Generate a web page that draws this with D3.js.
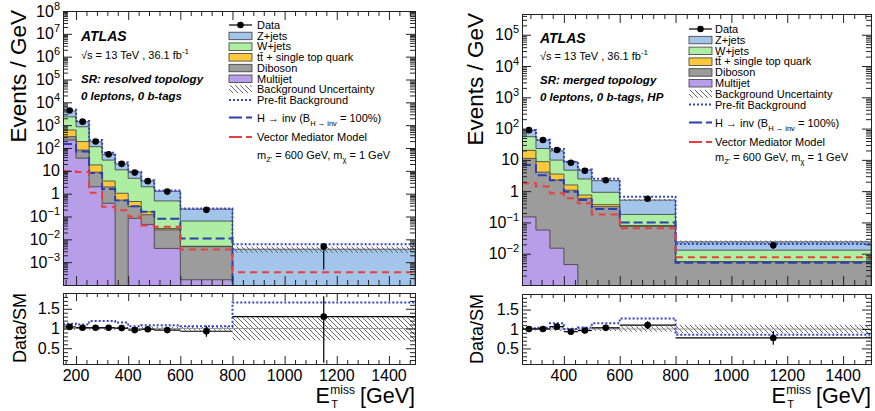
<!DOCTYPE html>
<html><head><meta charset="utf-8">
<script src="https://cdn.jsdelivr.net/npm/d3@7"></script>
<style>
body{margin:0;background:#fff}
svg{font-family:"Liberation Sans",Arial,Helvetica,sans-serif}
</style></head><body>
<script>
// ---- resolved topology (left) ----
var edgesL = [150,200,250,300,350,400,450,500,600,800,1500];
var multijetL = [224, 36, 2.0, 0.38, 0, 0.083, 0.045, 0.004, 0.00017, 0];
var dibosonL  = [90, 45, 6.7, 1.6, 0.52, 0.19, 0.075, 0.022, 0.0046, 0];
var ttbarL    = [300, 110, 9.5, 1.6, 0.52, 0.18, 0.04, 0.004, 0.0002, 0];
var wjetsL    = [1700, 660, 96, 26, 10, 4.25, 1.84, 0.45, 0.058, 0];
var zjetsL    = [1900, 550, 75, 22, 9, 4.0, 1.6, 0.8, 0.147, 0.0037];
var hinvL     = [150, 70, 8, 1.6, 0.5, 0.28, 0.16, 0.08, 0.011, 0.00005];
var vmedL     = [9.5, 9, 1.1, 0.27, 0.19, 0.1, 0.04, 0.036, 0.0036, 0.00036];
var dataRatioL   = [1.04, 1.02, 1.02, 1.02, 1.01, 0.96, 0.98, 0.96, 0.93, 1.30];
var dataErrUpL   = [0.01, 0.01, 0.02, 0.03, 0.04, 0.05, 0.06, 0.08, 0.15, 0.40];
var dataErrDnL   = [0.01, 0.01, 0.02, 0.03, 0.04, 0.05, 0.06, 0.08, 0.15, 0.90];
var prefitRatioL = [1.12, 1.10, 1.19, 1.19, 1.15, 1.06, 1.08, 1.08, 1.06, 1.66];
var bkgUncL      = [0.04, 0.03, 0.04, 0.04, 0.04, 0.04, 0.05, 0.05, 0.06, 0.30];

// ---- merged topology (right) ----
var edgesR = [250,300,350,400,450,500,600,800,1500];
var multijetR = [0.15, 0.057, 0.015, 0.0045, 0, 0, 0, 0];
var dibosonR  = [11, 4.0, 2.25, 1.07, 0.59, 0.32, 0.075, 0.0055];
var ttbarR    = [9, 4.7, 1.25, 0.5, 0.16, 0.05, 0.005, 0.0001];
var wjetsR    = [35, 14.3, 6.3, 3.1, 1.7, 0.55, 0.1, 0.0074];
var zjetsR    = [34, 20, 9.7, 4.0, 2.25, 1.24, 0.34, 0.011];
var hinvR     = [6.8, 3.2, 2.25, 0.96, 0.52, 0.27, 0.1, 0.0051];
var vmedR     = [1.8, 1.4, 0.85, 0.59, 0.41, 0.18, 0.065, 0.0077];
var dataRatioR   = [1.0, 1.0, 1.06, 0.93, 0.96, 1.03, 1.10, 0.77];
var dataErrUpR   = [0.02, 0.03, 0.04, 0.05, 0.07, 0.06, 0.09, 0.23];
var dataErrDnR   = [0.02, 0.03, 0.04, 0.05, 0.07, 0.06, 0.09, 0.23];
var prefitRatioR = [1.02, 1.03, 1.15, 1.0, 1.04, 1.15, 1.27, 0.85];
var bkgUncR      = [0.04, 0.04, 0.05, 0.04, 0.05, 0.05, 0.07, 0.11];

// tick labels
var xTicksL = [200,400,600,800,1000,1200,1400];
var xTicksR = [400,600,800,1000,1200,1400];
var yExpL = [8,7,6,5,4,3,2,1,0,-1,-2,-3];
var yExpR = [5,4,3,2,1,0,-1,-2];
var ratioTicks = [0.5, 1, 1.5];

var legendLabels = ["Data","Z+jets","W+jets","tt\u0304 + single top quark","Diboson","Multijet","Background Uncertainty","Pre-fit Background"];
var regionL = ["SR: resolved topology", "0 leptons, 0 b-tags"];
var regionR = ["SR: merged topology", "0 leptons, 0 b-tags, HP"];

var colors = {mj:"#b89ee8", dib:"#9c9c9c", tt:"#fcc93c", w:"#aeeea3", z:"#a3c5ea",
              prefit:"#3344cc", hinv:"#2b3fb0", vmed:"#e8403a"};

var svg = d3.select("body").append("svg").attr("width",875).attr("height",411);
var defs = svg.append("defs");
defs.append("pattern").attr("id","hatch").attr("patternUnits","userSpaceOnUse")
  .attr("width",5).attr("height",5)
  .append("path").attr("d","M-1,-1L6,6M-1,4L1,6M4,-1L6,1")
  .attr("stroke","#555").attr("stroke-width",0.9);

var panels = [
  {id:"L", edges:edgesL, mj:multijetL, dib:dibosonL, tt:ttbarL, w:wjetsL, z:zjetsL,
   hinv:hinvL, vmed:vmedL, ratio:dataRatioL, errUp:dataErrUpL, errDn:dataErrDnL,
   prefit:prefitRatioL, unc:bkgUncL, xTicks:xTicksL, yExp:yExpL, region:regionL,
   xDomain:[150,1500], yDomain:[1e-4,1e8], x0:63, x1:415, y0:11, y1:285, r0:293, r1:364,
   ttlX:26, txtX:81, txtY:[41,59,83,100], legSym:229, legTxt:257,
   legRows:[25,35.7,46.4,57.1,67.8,78.5,89.2,100,117.5,137,155]},
  {id:"R", edges:edgesR, mj:multijetR, dib:dibosonR, tt:ttbarR, w:wjetsR, z:zjetsR,
   hinv:hinvR, vmed:vmedR, ratio:dataRatioR, errUp:dataErrUpR, errDn:dataErrDnR,
   prefit:prefitRatioR, unc:bkgUncR, xTicks:xTicksR, yExp:yExpR, region:regionR,
   xDomain:[250,1500], yDomain:[1e-3,4.6e5], x0:522, x1:871, y0:14, y1:285, r0:294, r1:364,
   ttlX:483, txtX:540, txtY:[43,60,84,101], legSym:689, legTxt:715,
   legRows:[29,39.8,50.6,61.4,72.2,83,93.8,104.6,122.5,142,157]}
];

function steps(edges, vals) {
  var pts = vals.map(function(v,i){ return [edges[i], v, i]; });
  pts.push([edges[edges.length-1], vals[vals.length-1], vals.length-1]);
  return pts;
}

function drawPanel(p) {
  var x = d3.scaleLinear().domain(p.xDomain).range([p.x0, p.x1]);
  var y = d3.scaleLog().domain(p.yDomain).range([p.y1, p.y0]);
  var yr = d3.scaleLinear().domain([0.1, 1.9]).range([p.r1, p.r0]);
  var ymin = p.yDomain[0];
  var cl = function(v){ return y(Math.max(v, ymin * 0.5)); };
  var n = p.edges.length - 1;

  defs.append("clipPath").attr("id","cm"+p.id).append("rect")
    .attr("x",p.x0).attr("y",p.y0).attr("width",p.x1-p.x0).attr("height",p.y1-p.y0);
  defs.append("clipPath").attr("id","cr"+p.id).append("rect")
    .attr("x",p.x0).attr("y",p.r0).attr("width",p.x1-p.x0).attr("height",p.r1-p.r0);

  // cumulative stack
  var comps = [p.mj, p.dib, p.tt, p.w, p.z];
  var names = ["mj","dib","tt","w","z"];
  var cum = [], run = p.mj.map(function(){ return 0; });
  comps.forEach(function(c){
    run = run.map(function(v,i){ return v + c[i]; });
    cum.push(run);
  });
  var total = cum[4];

  var gm = svg.append("g").attr("clip-path","url(#cm"+p.id+")");
  var area = d3.area().curve(d3.curveStepAfter)
    .x(function(d){ return x(d[0]); }).y0(p.y1).y1(function(d){ return cl(d[1]); });
  var line = d3.line().curve(d3.curveStepAfter)
    .x(function(d){ return x(d[0]); }).y(function(d){ return cl(d[1]); });

  for (var k = 4; k >= 0; k--) {
    var pts = steps(p.edges, cum[k]);
    gm.append("path").attr("d", area(pts)).attr("fill", colors[names[k]]);
    var outline = [[p.edges[0], 0]].concat(pts).concat([[p.edges[n], 0]]);
    gm.append("path").attr("d", line(outline)).attr("fill","none")
      .attr("stroke","#3a3a3a").attr("stroke-width",0.8);
  }

  // background uncertainty band
  var band = d3.area().curve(d3.curveStepAfter)
    .x(function(d){ return x(d[0]); })
    .y0(function(d){ return cl(d[1]*(1-p.unc[d[2]])); })
    .y1(function(d){ return cl(d[1]*(1+p.unc[d[2]])); });
  gm.append("path").attr("d", band(steps(p.edges, total))).attr("fill","url(#hatch)");

  var prefitMain = total.map(function(v,i){ return v * p.prefit[i]; });
  gm.append("path").attr("d", line(steps(p.edges, prefitMain))).attr("fill","none")
    .attr("stroke",colors.prefit).attr("stroke-width",2).attr("stroke-dasharray","2,2");
  gm.append("path").attr("d", line(steps(p.edges, p.hinv))).attr("fill","none")
    .attr("stroke",colors.hinv).attr("stroke-width",2).attr("stroke-dasharray","9,4");
  gm.append("path").attr("d", line(steps(p.edges, p.vmed))).attr("fill","none")
    .attr("stroke",colors.vmed).attr("stroke-width",2).attr("stroke-dasharray","7,5");

  // data in main panel
  var data = total.map(function(v,i){
    var d = v * p.ratio[i];
    return {c:(p.edges[i]+p.edges[i+1])/2, v:d, up:d*(1+p.errUp[i]), dn:d*(1-p.errDn[i])};
  });
  gm.selectAll(".eb").data(data).enter().append("line")
    .attr("x1",function(d){ return x(d.c); }).attr("x2",function(d){ return x(d.c); })
    .attr("y1",function(d){ return cl(d.up); }).attr("y2",function(d){ return cl(d.dn); })
    .attr("stroke","#000").attr("stroke-width",1.2);
  gm.selectAll(".pt").data(data).enter().append("circle")
    .attr("cx",function(d){ return x(d.c); }).attr("cy",function(d){ return cl(d.v); })
    .attr("r",3.3).attr("fill","#000");

  // ratio panel
  var gr = svg.append("g").attr("clip-path","url(#cr"+p.id+")");
  var rband = d3.area().curve(d3.curveStepAfter)
    .x(function(d){ return x(d[0]); })
    .y0(function(d){ return yr(1 - d[1]); }).y1(function(d){ return yr(1 + d[1]); });
  gr.append("path").attr("d", rband(steps(p.edges, p.unc))).attr("fill","url(#hatch)");
  gr.append("line").attr("x1",p.x0).attr("x2",p.x1).attr("y1",yr(1)).attr("y2",yr(1))
    .attr("stroke","#999").attr("stroke-width",1);
  var rline = d3.line().curve(d3.curveStepAfter)
    .x(function(d){ return x(d[0]); }).y(function(d){ return yr(d[1]); });
  gr.append("path").attr("d", rline(steps(p.edges, p.prefit))).attr("fill","none")
    .attr("stroke",colors.prefit).attr("stroke-width",2).attr("stroke-dasharray","2,2");
  var rdata = p.ratio.map(function(r,i){
    return {a:p.edges[i], b:p.edges[i+1], c:(p.edges[i]+p.edges[i+1])/2,
            v:r, up:r*(1+p.errUp[i]), dn:r*(1-p.errDn[i])};
  });
  gr.selectAll(".hx").data(rdata).enter().append("line")
    .attr("x1",function(d){ return x(d.a); }).attr("x2",function(d){ return x(d.b); })
    .attr("y1",function(d){ return yr(d.v); }).attr("y2",function(d){ return yr(d.v); })
    .attr("stroke","#000").attr("stroke-width",1.2);
  gr.selectAll(".vx").data(rdata).enter().append("line")
    .attr("x1",function(d){ return x(d.c); }).attr("x2",function(d){ return x(d.c); })
    .attr("y1",function(d){ return yr(d.up); }).attr("y2",function(d){ return yr(d.dn); })
    .attr("stroke","#000").attr("stroke-width",1.2);
  gr.selectAll(".rp").data(rdata).enter().append("circle")
    .attr("cx",function(d){ return x(d.c); }).attr("cy",function(d){ return yr(d.v); })
    .attr("r",3.3).attr("fill","#000");

  // frames
  [[p.y0,p.y1],[p.r0,p.r1]].forEach(function(f){
    svg.append("rect").attr("x",p.x0+0.5).attr("y",f[0]+0.5)
      .attr("width",p.x1-p.x0).attr("height",f[1]-f[0])
      .attr("fill","none").attr("stroke","#222").attr("stroke-width",1);
  });

  // ticks
  function addAxis(axis, tx, ty) {
    var g = svg.append("g").attr("transform","translate("+tx+","+ty+")").call(axis);
    g.select(".domain").remove();
    g.selectAll("line").attr("stroke","#222");
    return g;
  }
  var xMajor = d3.range(200, 1501, 200).filter(function(v){ return v >= p.xDomain[0]; });
  var xMinor = d3.range(160, 1501, 40).filter(function(v){ return v >= p.xDomain[0] && v % 200 !== 0; });
  [[p.y1,p.y0],[p.r1,p.r0]].forEach(function(f, j){
    var big = j === 0 ? 9 : 8, small = j === 0 ? 5 : 4;
    addAxis(d3.axisBottom(x).tickValues(xMajor).tickSize(-big).tickFormat(""), 0, f[0]);
    addAxis(d3.axisBottom(x).tickValues(xMinor).tickSize(-small).tickFormat(""), 0, f[0]);
    addAxis(d3.axisTop(x).tickValues(xMajor).tickSize(-big).tickFormat(""), 0, f[1]);
    addAxis(d3.axisTop(x).tickValues(xMinor).tickSize(-small).tickFormat(""), 0, f[1]);
  });
  var lo = Math.floor(Math.log10(p.yDomain[0])), hi = Math.ceil(Math.log10(p.yDomain[1]));
  var yMajor = [], yMinor = [];
  for (var e = lo; e <= hi; e++) {
    var b = Math.pow(10, e);
    if (b >= p.yDomain[0] && b <= p.yDomain[1]) yMajor.push(b);
    for (var m = 2; m <= 9; m++) {
      var v = m * b;
      if (v >= p.yDomain[0] && v <= p.yDomain[1]) yMinor.push(v);
    }
  }
  addAxis(d3.axisLeft(y).tickValues(yMajor).tickSize(-9).tickFormat(""), p.x0, 0);
  addAxis(d3.axisLeft(y).tickValues(yMinor).tickSize(-5).tickFormat(""), p.x0, 0);
  addAxis(d3.axisRight(y).tickValues(yMajor).tickSize(-9).tickFormat(""), p.x1, 0);
  addAxis(d3.axisRight(y).tickValues(yMinor).tickSize(-5).tickFormat(""), p.x1, 0);
  var rMinor = d3.range(2, 19).map(function(v){ return v/10; }).filter(function(v){ return Math.round(v*10) % 5 !== 0; });
  addAxis(d3.axisLeft(yr).tickValues(ratioTicks).tickSize(-9).tickFormat(""), p.x0, 0);
  addAxis(d3.axisLeft(yr).tickValues(rMinor).tickSize(-5).tickFormat(""), p.x0, 0);
  addAxis(d3.axisRight(yr).tickValues(ratioTicks).tickSize(-9).tickFormat(""), p.x1, 0);
  addAxis(d3.axisRight(yr).tickValues(rMinor).tickSize(-5).tickFormat(""), p.x1, 0);

  // tick labels
  var lab = svg.append("g").attr("font-size",16).attr("fill","#000");
  p.yExp.forEach(function(ex){
    var t = lab.append("text").attr("x",p.x0-3).attr("y",y(Math.pow(10,ex))+5.5)
      .attr("text-anchor","end");
    if (ex === 0) t.text("1");
    else if (ex === 1) t.text("10");
    else {
      t.text("10");
      t.append("tspan").attr("dy",-7).attr("font-size",11).text(String(ex).replace("-","\u2212"));
    }
  });
  p.xTicks.forEach(function(v){
    lab.append("text").attr("x",x(v)).attr("y",381).attr("text-anchor","middle").text(v);
  });
  ratioTicks.forEach(function(v){
    lab.append("text").attr("x",p.x0-3).attr("y",yr(v)+5.5).attr("text-anchor","end").text(v);
  });

  // axis titles
  svg.append("text").attr("transform","translate("+p.ttlX+","+(p.y0-1)+") rotate(-90)")
    .attr("text-anchor","end").attr("font-size",22.5).text("Events / GeV");
  svg.append("text").attr("transform","translate("+p.ttlX+","+p.r0+") rotate(-90)")
    .attr("text-anchor","end").attr("font-size",18).text("Data/SM");
  var gv = svg.append("text").attr("x",p.x1).attr("y",403).attr("text-anchor","end")
    .attr("font-size",21.5).text("[GeV]");
  var gvW = gv.node().getComputedTextLength();
  var ms = svg.append("text").attr("x",p.x1-gvW-5).attr("y",393.5).attr("text-anchor","end")
    .attr("font-size",12).text("miss");
  var msStart = p.x1 - gvW - 5 - ms.node().getComputedTextLength();
  svg.append("text").attr("x",msStart+1).attr("y",407.5).attr("font-size",11).text("T");
  svg.append("text").attr("x",msStart-0.5).attr("y",403).attr("text-anchor","end")
    .attr("font-size",21.5).text("E");

  // ATLAS labels
  var tg = svg.append("g");
  tg.append("text").attr("x",p.txtX).attr("y",p.txtY[0]).attr("font-size",14)
    .attr("font-weight","bold").attr("font-style","italic").text("ATLAS");
  var rs = tg.append("text").attr("x",p.txtX).attr("y",p.txtY[1]).attr("font-size",11)
    .text("\u221As = 13 TeV , 36.1 fb");
  rs.append("tspan").attr("dy",-5).attr("font-size",8).text("-1");
  p.region.forEach(function(s, i){
    tg.append("text").attr("x",p.txtX).attr("y",p.txtY[2+i]).attr("font-size",11.5)
      .attr("font-weight","bold").attr("font-style","italic").text(s);
  });

  // legend
  var lg = svg.append("g").attr("font-size",11);
  var sx = p.legSym, sw = 23, tx = p.legTxt, R = p.legRows;
  legendLabels.forEach(function(s, i){
    lg.append("text").attr("x",tx).attr("y",R[i]+4).text(s);
  });
  lg.append("line").attr("x1",sx).attr("x2",sx+sw).attr("y1",R[0]).attr("y2",R[0])
    .attr("stroke","#000").attr("stroke-width",1.2);
  lg.append("circle").attr("cx",sx+sw/2).attr("cy",R[0]).attr("r",3.3).attr("fill","#000");
  ["z","w","tt","dib","mj"].forEach(function(c, i){
    lg.append("rect").attr("x",sx).attr("y",R[i+1]-3.5).attr("width",sw).attr("height",7.5)
      .attr("fill",colors[c]).attr("stroke","#3a3a3a").attr("stroke-width",0.8);
  });
  lg.append("rect").attr("x",sx).attr("y",R[6]-4).attr("width",sw).attr("height",8)
    .attr("fill","url(#hatch)");
  lg.append("line").attr("x1",sx).attr("x2",sx+sw).attr("y1",R[7]).attr("y2",R[7])
    .attr("stroke",colors.prefit).attr("stroke-width",2).attr("stroke-dasharray","2,2");
  lg.append("line").attr("x1",sx).attr("x2",sx+sw).attr("y1",R[8]).attr("y2",R[8])
    .attr("stroke",colors.hinv).attr("stroke-width",2).attr("stroke-dasharray","13,4");
  lg.append("line").attr("x1",sx).attr("x2",sx+sw).attr("y1",R[9]).attr("y2",R[9])
    .attr("stroke",colors.vmed).attr("stroke-width",2).attr("stroke-dasharray","13,4");
  var ht = lg.append("text").attr("x",tx).attr("y",R[8]+4).text("H \u2192 inv (B");
  ht.append("tspan").attr("dy",4).attr("font-size",7.5).text("H \u2192 inv");
  ht.append("tspan").attr("dy",-4).text(" = 100%)");
  lg.append("text").attr("x",tx).attr("y",R[9]+4).text("Vector Mediator Model");
  var mt = lg.append("text").attr("x",tx).attr("y",R[10]+4).text("m");
  mt.append("tspan").attr("dy",3).attr("font-size",7.5).text("Z'");
  mt.append("tspan").attr("dy",-3).text(" = 600 GeV, m");
  mt.append("tspan").attr("dy",3).attr("font-size",7.5).text("\u03C7");
  mt.append("tspan").attr("dy",-3).text(" = 1 GeV");
}

panels.forEach(drawPanel);
</script>
</body></html>
